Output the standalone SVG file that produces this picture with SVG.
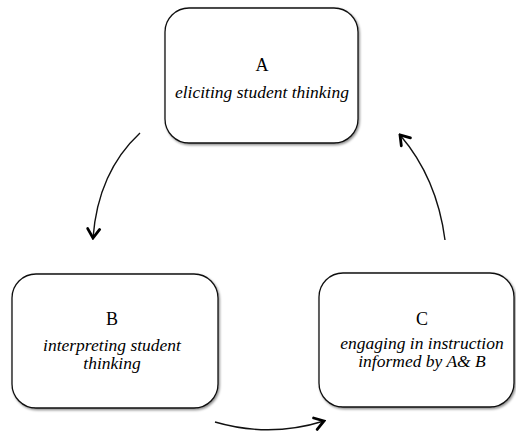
<svg xmlns="http://www.w3.org/2000/svg" width="516" height="431" viewBox="0 0 516 431">
  <defs>
    <filter id="shadow" x="-10%" y="-10%" width="130%" height="130%">
      <feDropShadow dx="1.2" dy="1.5" stdDeviation="0.8" flood-color="#000" flood-opacity="0.45"/>
    </filter>
    <marker id="head" viewBox="-12 -8 14 16" markerWidth="14" markerHeight="16" refX="0" refY="0" orient="auto" markerUnits="userSpaceOnUse">
      <path d="M-9,-6 L0,0 L-9,6" fill="none" stroke="#000" stroke-width="2.8" stroke-linecap="round" stroke-linejoin="miter"/>
    </marker>
  </defs>
  <style>
    .box { fill: #fff; stroke: #111; stroke-width: 1.3; filter: url(#shadow); }
    .title { font-family: "Liberation Serif", "Times New Roman", serif; font-size: 18px; fill: #000; text-anchor: middle; }
    .desc { font-family: "Liberation Serif", "Times New Roman", serif; font-size: 17.5px; font-style: italic; fill: #000; text-anchor: middle; }
    .link { fill: none; stroke: #111; stroke-width: 1.4; marker-end: url(#head); }
  </style>
  <rect width="516" height="431" fill="#fff"/>

  <g id="node-a">
    <rect class="box" x="165" y="8" width="193" height="135" rx="24" ry="24"/>
    <text class="title" x="262" y="71">A</text>
    <text class="desc" x="262" y="98">eliciting student thinking</text>
  </g>

  <g id="node-b">
    <rect class="box" x="12" y="274" width="206" height="134" rx="24" ry="24"/>
    <text class="title" x="112" y="325">B</text>
    <text class="desc" x="112" y="351">interpreting student</text>
    <text class="desc" x="112" y="369">thinking</text>
  </g>

  <g id="node-c">
    <rect class="box" x="319" y="273" width="195" height="134" rx="24" ry="24"/>
    <text class="title" x="422" y="325">C</text>
    <text class="desc" x="422" y="349">engaging in instruction</text>
    <text class="desc" x="422" y="367">informed by A&amp; B</text>
  </g>

  <g id="connectors">
    <path class="link" d="M140,133 Q98,172 93,238"/>
    <path class="link" d="M445,240 Q437,178 400,135"/>
    <path class="link" d="M215,422 Q270,438 324,421"/>
  </g>
</svg>
